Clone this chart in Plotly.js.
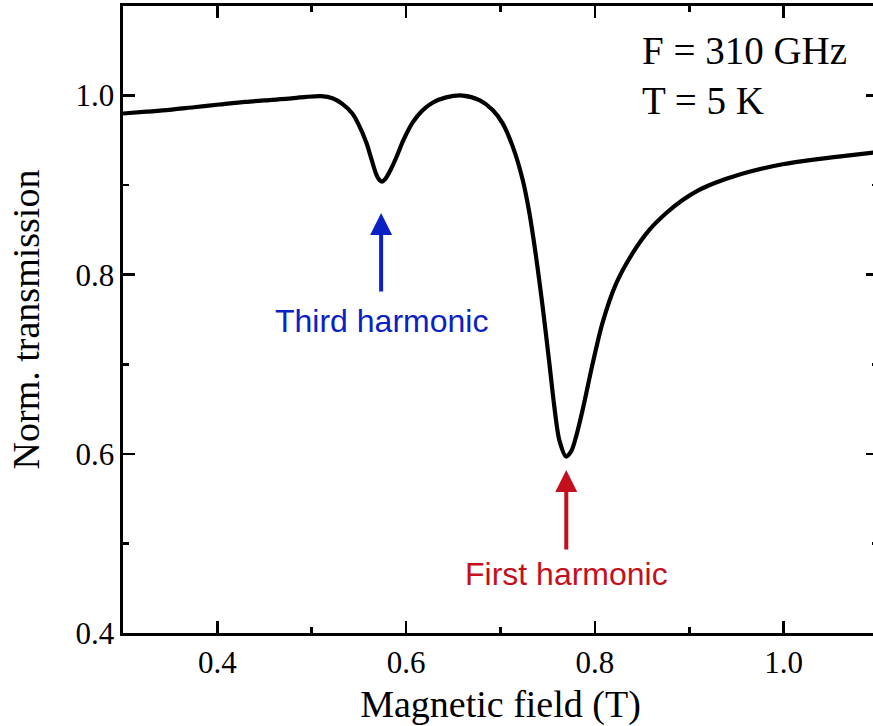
<!DOCTYPE html>
<html>
<head>
<meta charset="utf-8">
<script src="https://cdn.plot.ly/plotly-3.0.1.min.js"></script>
<style>
html, body { margin: 0; padding: 0; overflow: hidden; background: #fff; }
#chart { width: 880px; height: 726px; }
</style>
</head>
<body>
<div id="chart"></div>
<script>
// Magnetic field (T)
const fieldT = [0.300, 0.325, 0.349, 0.375, 0.402, 0.430, 0.455, 0.475, 0.494, 0.510, 0.522, 0.532, 0.543, 0.550, 0.558, 0.563, 0.568, 0.5715, 0.5745, 0.578, 0.584, 0.590, 0.597, 0.607, 0.617, 0.628, 0.6424, 0.660, 0.6777, 0.6917, 0.7023, 0.713, 0.7235, 0.7306, 0.7377, 0.7447, 0.7518, 0.757, 0.7624, 0.7695, 0.775, 0.780, 0.787, 0.7977, 0.808, 0.8225, 0.840, 0.8577, 0.8754, 0.893, 0.910, 0.9284, 0.946, 0.9637, 0.999, 1.034, 1.0696, 1.100];
// Normalized transmission
const transmission = [0.980, 0.982, 0.984, 0.987, 0.990, 0.993, 0.995, 0.9965, 0.9985, 0.9993, 0.997, 0.991, 0.980, 0.967, 0.947, 0.930, 0.913, 0.906, 0.904, 0.907, 0.918, 0.932, 0.950, 0.970, 0.983, 0.992, 0.998, 1.000, 0.995, 0.984, 0.969, 0.943, 0.906, 0.869, 0.820, 0.764, 0.701, 0.653, 0.615, 0.597, 0.603, 0.619, 0.649, 0.701, 0.746, 0.790, 0.824, 0.850, 0.8686, 0.8834, 0.8945, 0.9030, 0.9095, 0.915, 0.9233, 0.9288, 0.9333, 0.937];

const xTickVals = [0.4, 0.6, 0.8, 1.0];
const yTickVals = [0.4, 0.6, 0.8, 1.0];

const labelFreq = "F = 310 GHz";
const labelTemp = "T = 5 K";
const labelThird = "Third harmonic";
const labelFirst = "First harmonic";
const thirdPos = {x: 0.5735, tipY: 0.869, textY: 0.748};
const firstPos = {x: 0.7697, tipY: 0.582, textY: 0.466};

const serif = "Liberation Serif, Times New Roman, serif";
const sans = "Liberation Sans, Arial, sans-serif";
const blue = "#0a22c4";
const red = "#c4101c";

const trace = {
  x: fieldT, y: transmission, type: "scatter", mode: "lines",
  line: {color: "#000", width: 4.2, shape: "spline", smoothing: 0.8},
  hoverinfo: "skip"
};

const axisCommon = {
  showgrid: false, zeroline: false,
  showline: true, linecolor: "#000", linewidth: 2.6, mirror: "all",
  ticks: "inside", ticklen: 12, tickwidth: 2.6, tickcolor: "#000",
  tickfont: {family: serif, size: 31, color: "#000"},
  tickformat: ".1f"
};

const layout = {
  width: 880, height: 726,
  margin: {l: 123, r: 2, t: 6, b: 93},
  paper_bgcolor: "#fff", plot_bgcolor: "#fff",
  showlegend: false,
  xaxis: Object.assign({}, axisCommon, {
    range: [0.3, 1.1], tickvals: xTickVals,
    minor: {dtick: 0.1, tick0: 0.3, ticks: "inside", ticklen: 6, tickwidth: 2.6, tickcolor: "#000"},
    title: {text: "Magnetic field (T)", font: {family: serif, size: 38, color: "#000"}, standoff: 16}
  }),
  yaxis: Object.assign({}, axisCommon, {
    range: [0.4, 1.1], tickvals: yTickVals,
    minor: {dtick: 0.1, tick0: 0.4, ticks: "inside", ticklen: 6, tickwidth: 2.6, tickcolor: "#000"},
    title: {text: "Norm. transmission", font: {family: serif, size: 38, color: "#000"}, standoff: 24}
  }),
  annotations: [
    {x: 0.848, y: 1.050, xref: "x", yref: "y", text: labelFreq, showarrow: false, xanchor: "left", yanchor: "middle",
     font: {family: serif, size: 39, color: "#000"}},
    {x: 0.848, y: 0.995, xref: "x", yref: "y", text: labelTemp, showarrow: false, xanchor: "left", yanchor: "middle",
     font: {family: serif, size: 39, color: "#000"}},
    {x: thirdPos.x, y: thirdPos.tipY, xref: "x", yref: "y", ax: 0, ay: 80, text: "", showarrow: true,
     arrowhead: 2, arrowsize: 1.1, arrowwidth: 4, arrowcolor: blue, standoff: 0},
    {x: firstPos.x, y: firstPos.tipY, xref: "x", yref: "y", ax: 0, ay: 81, text: "", showarrow: true,
     arrowhead: 2, arrowsize: 1.1, arrowwidth: 4, arrowcolor: red, standoff: 0},
    {x: thirdPos.x, y: thirdPos.textY, xref: "x", yref: "y", text: labelThird, showarrow: false,
     xanchor: "center", yanchor: "middle", font: {family: sans, size: 32, color: blue}},
    {x: firstPos.x, y: firstPos.textY, xref: "x", yref: "y", text: labelFirst, showarrow: false,
     xanchor: "center", yanchor: "middle", font: {family: sans, size: 32, color: red}}
  ]
};

Plotly.newPlot("chart", [trace], layout, {displayModeBar: false, staticPlot: true});
</script>
</body>
</html>
